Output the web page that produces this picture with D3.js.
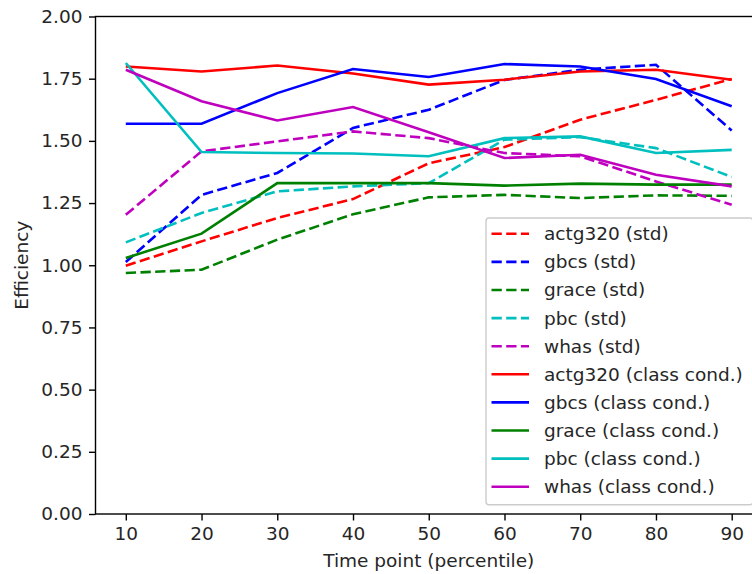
<!DOCTYPE html>
<html>
<head>
<meta charset="utf-8">
<script src="https://cdn.jsdelivr.net/npm/d3@7"></script>
<style>
  html, body { margin: 0; padding: 0; background: #fff; }
  svg { display: block; font-family: "DejaVu Sans", sans-serif; }
</style>
</head>
<body>
<svg id="chart" width="752" height="574"></svg>
<script>
// Time points (percentiles) on the x axis
const timePoints = [10, 20, 30, 40, 50, 60, 70, 80, 90];
const yTicks = [0, 0.25, 0.5, 0.75, 1.0, 1.25, 1.5, 1.75, 2.0];

// Efficiency, standard estimator
const actg320Std = [0.998, 1.096, 1.190, 1.266, 1.410, 1.475, 1.585, 1.665, 1.749];
const gbcsStd    = [1.013, 1.283, 1.371, 1.552, 1.625, 1.745, 1.786, 1.806, 1.542];
const graceStd   = [0.969, 0.982, 1.103, 1.205, 1.273, 1.283, 1.270, 1.281, 1.279];
const pbcStd     = [1.092, 1.210, 1.297, 1.317, 1.330, 1.505, 1.515, 1.471, 1.355];
const whasStd    = [1.203, 1.458, 1.498, 1.538, 1.511, 1.451, 1.438, 1.337, 1.243];

// Efficiency, class-conditional estimator
const actg320CC = [1.799, 1.779, 1.803, 1.771, 1.726, 1.746, 1.779, 1.786, 1.746];
const gbcsCC    = [1.569, 1.569, 1.692, 1.789, 1.757, 1.809, 1.799, 1.749, 1.639];
const graceCC   = [1.029, 1.127, 1.330, 1.330, 1.330, 1.320, 1.328, 1.324, 1.324];
const pbcCC     = [1.813, 1.455, 1.451, 1.449, 1.438, 1.511, 1.518, 1.451, 1.464];
const whasCC    = [1.786, 1.659, 1.582, 1.636, 1.535, 1.431, 1.444, 1.364, 1.317];

const series = [
  { label: "actg320 (std)", values: actg320Std, color: "#ff0000", dashed: true },
  { label: "gbcs (std)", values: gbcsStd, color: "#0000ff", dashed: true },
  { label: "grace (std)", values: graceStd, color: "#008000", dashed: true },
  { label: "pbc (std)", values: pbcStd, color: "#00bfbf", dashed: true },
  { label: "whas (std)", values: whasStd, color: "#bf00bf", dashed: true },
  { label: "actg320 (class cond.)", values: actg320CC, color: "#ff0000", dashed: false },
  { label: "gbcs (class cond.)", values: gbcsCC, color: "#0000ff", dashed: false },
  { label: "grace (class cond.)", values: graceCC, color: "#008000", dashed: false },
  { label: "pbc (class cond.)", values: pbcCC, color: "#00bfbf", dashed: false },
  { label: "whas (class cond.)", values: whasCC, color: "#bf00bf", dashed: false }
];

const fontSize = 18.5;
const textColor = "#262626";
const lineWidth = 2.6;
const dash = "10.3,4.4";

const svg = d3.select("#chart");

const plot = { left: 95.5, right: 762, top: 16.5, bottom: 514 };

const x = d3.scaleLinear().domain([6, 94]).range([plot.left, plot.right]);
const y = d3.scaleLinear().domain([0, 2]).range([plot.bottom, plot.top]);

// clip lines to the axes area
svg.append("defs").append("clipPath").attr("id", "plotClip")
  .append("rect")
  .attr("x", plot.left).attr("y", plot.top)
  .attr("width", plot.right - plot.left).attr("height", plot.bottom - plot.top);

const line = d3.line()
  .x((d, i) => x(timePoints[i]))
  .y(d => y(d));

const lines = svg.append("g").attr("clip-path", "url(#plotClip)");
series.forEach(s => {
  lines.append("path")
    .datum(s.values)
    .attr("d", line)
    .attr("fill", "none")
    .attr("stroke", s.color)
    .attr("stroke-width", lineWidth)
    .attr("stroke-dasharray", s.dashed ? dash : null);
});

// axes
const xAxis = d3.axisBottom(x).tickValues(timePoints).tickSize(6.5).tickPadding(6.5);
const yAxis = d3.axisLeft(y).tickValues(yTicks).tickFormat(d3.format(".2f")).tickSize(6.5).tickPadding(6.5);

const gx = svg.append("g").attr("transform", `translate(0,${plot.bottom})`).call(xAxis);
const gy = svg.append("g").attr("transform", `translate(${plot.left},0)`).call(yAxis);

[gx, gy].forEach(g => {
  g.select(".domain").remove();
  g.selectAll(".tick line").attr("stroke", "#000").attr("stroke-width", 1.4);
  g.selectAll(".tick text")
    .attr("fill", textColor)
    .style("font-size", fontSize + "px")
    .style("font-family", "DejaVu Sans, sans-serif");
});

// frame
svg.append("rect")
  .attr("x", plot.left).attr("y", plot.top)
  .attr("width", plot.right - plot.left).attr("height", plot.bottom - plot.top)
  .attr("fill", "none").attr("stroke", "#000").attr("stroke-width", 1.4);

// axis titles
svg.append("text")
  .attr("x", x(50)).attr("y", 567)
  .attr("text-anchor", "middle")
  .attr("fill", textColor)
  .style("font-size", fontSize + "px")
  .text("Time point (percentile)");

svg.append("text")
  .attr("transform", `translate(28,${(plot.top + plot.bottom) / 2}) rotate(-90)`)
  .attr("text-anchor", "middle")
  .attr("fill", textColor)
  .style("font-size", fontSize + "px")
  .text("Efficiency");

// legend (lower right)
const legend = { left: 486, top: 218, right: 752.8, bottom: 504.8 };
const lg = svg.append("g");
lg.append("rect")
  .attr("x", legend.left).attr("y", legend.top)
  .attr("width", legend.right - legend.left).attr("height", legend.bottom - legend.top)
  .attr("rx", 3).attr("ry", 3)
  .attr("fill", "#fff").attr("fill-opacity", 0.8)
  .attr("stroke", "#cccccc").attr("stroke-width", 1.4);

const rowStep = 28.1;
const firstRow = 233.8;
series.forEach((s, i) => {
  const cy = firstRow + i * rowStep;
  lg.append("line")
    .attr("x1", 491.5).attr("x2", 529)
    .attr("y1", cy).attr("y2", cy)
    .attr("stroke", s.color)
    .attr("stroke-width", lineWidth)
    .attr("stroke-dasharray", s.dashed ? dash : null);
  lg.append("text")
    .attr("x", 544).attr("y", cy)
    .attr("dy", "0.35em")
    .attr("fill", textColor)
    .style("font-size", fontSize + "px")
    .text(s.label);
});
</script>
</body>
</html>
